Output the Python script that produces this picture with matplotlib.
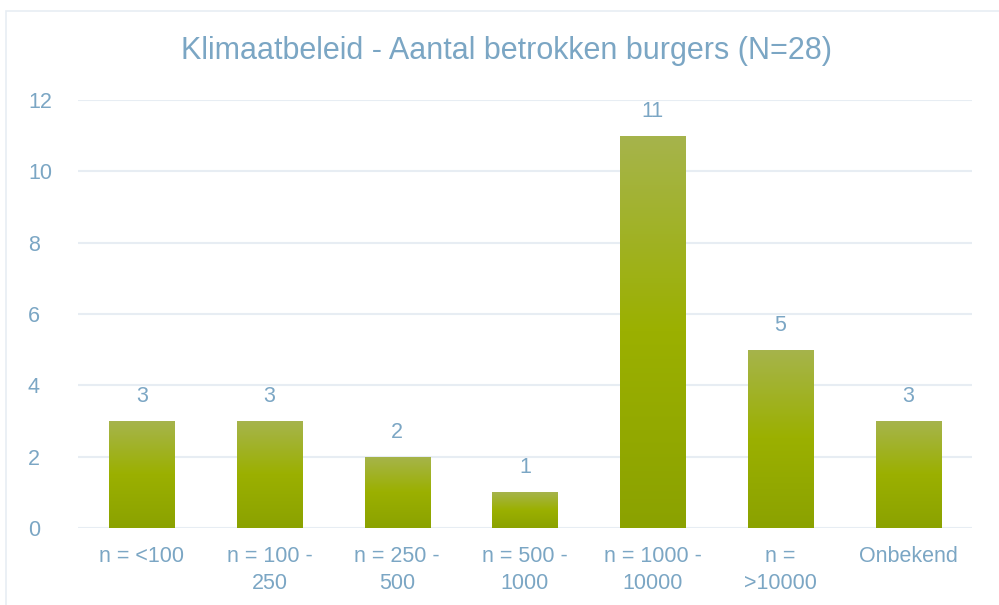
import numpy as np
import matplotlib.pyplot as plt
from matplotlib.colors import LinearSegmentedColormap
from matplotlib.patches import Rectangle

categorieen = ["n = <100", "n = 100 -\n250", "n = 250 -\n500", "n = 500 -\n1000",
               "n = 1000 -\n10000", "n =\n>10000", "Onbekend"]
aantallen = [3, 3, 2, 1, 11, 5, 3]
y_ticks = [0, 2, 4, 6, 8, 10, 12]

tekst_kleur = "#7BA6C4"
raster_kleur = "#E7EDF3"
verloop = LinearSegmentedColormap.from_list("groen", ["#8BA200", "#9BB000", "#A6B44C"])

plt.rcParams['font.family'] = ['Liberation Sans', 'DejaVu Sans']

fig = plt.figure(figsize=(9.99, 6.05), dpi=100)
ax = fig.add_axes([0.078, 0.1273, 0.895, 0.7074])

# rand van het grafiekgebied
fig.patches.append(Rectangle((6 / 999, -0.1), 1.1, 1 - 11 / 605 + 0.1, transform=fig.transFigure,
                             fill=False, edgecolor=raster_kleur, linewidth=1.2))

x = np.arange(len(categorieen))
breedte = 0.51
balken = ax.bar(x, aantallen, width=breedte, color="none", zorder=2)

grad = np.linspace(0, 1, 256).reshape(-1, 1)
for b in balken:
    x0, h = b.get_x(), b.get_height()
    im = ax.imshow(grad, cmap=verloop, origin="lower", aspect="auto",
                   extent=[x0, x0 + breedte, 0, h], zorder=2)
    im.set_clip_path(b)

for xi, v in zip(x, aantallen):
    ax.annotate(str(v), (xi, v), xytext=(0, 10), textcoords="offset points",
                ha="center", va="bottom", color=tekst_kleur, fontsize=15.5)

ax.set_xlim(-0.5, len(categorieen) - 0.5)
ax.set_ylim(0, 12)
ax.set_yticks(y_ticks)
ax.set_xticks(x)
ax.set_xticklabels(categorieen, linespacing=1.4)
ax.yaxis.grid(True, color=raster_kleur, linewidth=1.5, zorder=0)
ax.set_axisbelow(True)
for s in ax.spines.values():
    s.set_visible(False)
ax.tick_params(length=0, colors=tekst_kleur, labelsize=15.5)
ax.tick_params(axis="x", pad=13)
ax.tick_params(axis="y", pad=36)
for lbl in ax.get_yticklabels():
    lbl.set_horizontalalignment("left")

fig.text(0.507, 0.915, "Klimaatbeleid - Aantal betrokken burgers (N=28)", ha="center",
         va="center", color=tekst_kleur, fontsize=22)

fig.savefig("out.png", dpi=100)
